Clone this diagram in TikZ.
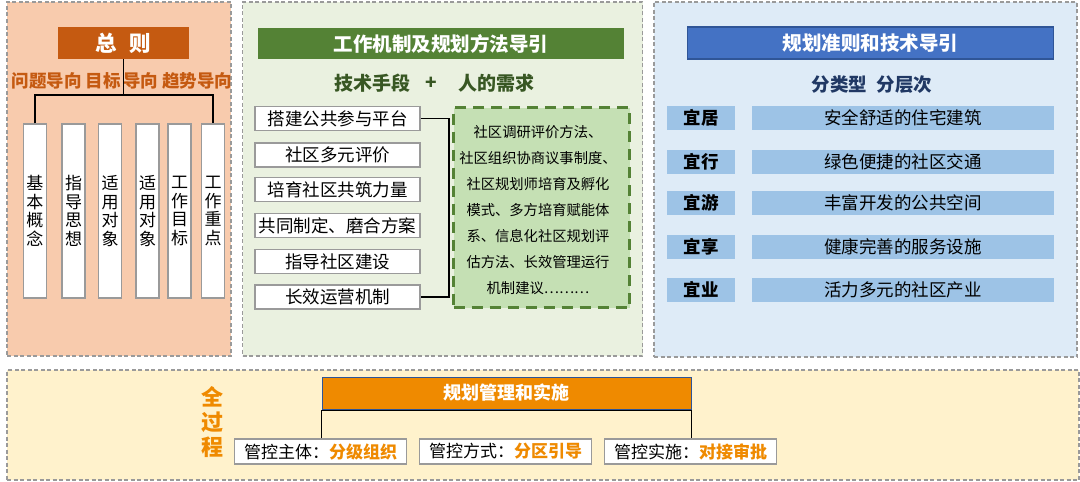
\documentclass[tikz,border=0pt]{standalone}
\usepackage{fontspec}
\setmainfont{Noto Sans CJK SC}
\definecolor{pA}{HTML}{F8CBAD}
\definecolor{tA}{HTML}{C55A11}
\definecolor{pB}{HTML}{EAF1E0}
\definecolor{tB}{HTML}{548235}
\definecolor{dB}{HTML}{C5E0B4}
\definecolor{sB}{HTML}{385723}
\definecolor{pC}{HTML}{DEEBF7}
\definecolor{tC}{HTML}{4472C4}
\definecolor{eC}{HTML}{2F5597}
\definecolor{rC}{HTML}{9DC3E6}
\definecolor{sC}{HTML}{203864}
\definecolor{pD}{HTML}{FFF2CC}
\definecolor{oD}{HTML}{EF8A00}
\definecolor{gB}{HTML}{9A9A9A}
\tikzset{
  panel/.style={draw=gB, line width=1.1pt, dash pattern=on 4pt off 2.5pt, inner sep=0pt},
  titlebar/.style={inner sep=0pt, text=white, font=\fontsize{19.5}{21}\selectfont\bfseries},
  vbox/.style={draw=gB, line width=1.2pt, fill=white, minimum width=23pt, minimum height=174pt, inner sep=0pt, align=center, font=\fontsize{17}{18.5}\selectfont},
  lbox/.style={draw=gB, line width=1.2pt, fill=white, minimum width=165pt, minimum height=24pt, inner sep=0pt, font=\fontsize{17.5}{19}\selectfont},
  tagbox/.style={fill=rC, minimum width=68pt, minimum height=24pt, inner sep=0pt, font=\fontsize{17.5}{19}\selectfont\bfseries},
  rowbox/.style={fill=rC, minimum width=302pt, minimum height=24pt, inner sep=0pt, font=\fontsize{17.5}{19}\selectfont},
  mbox/.style={draw=gB, line width=1.2pt, fill=white, minimum width=172pt, minimum height=25pt, inner sep=0pt, font=\fontsize{17}{19}\selectfont},
  conn/.style={draw=black, line width=1.1pt},
}
\begin{document}
\begin{tikzpicture}[x=1pt,y=-1pt]
\useasboundingbox (0,0) rectangle (1080,482);
\fill[white] (0,0) rectangle (1080,482);
% panels
\node[panel, fill=pA, minimum width=224pt, minimum height=354pt] (p1) at (119,179) {};
\node[panel, fill=pB, minimum width=400pt, minimum height=354pt] (p2) at (442.5,179) {};
\node[panel, fill=pC, minimum width=423pt, minimum height=355pt] (p3) at (865.5,179.5) {};
\node[panel, fill=pD, minimum width=1072pt, minimum height=110pt] (p4) at (543,425) {};

% ---- panel 1
\node[titlebar, fill=tA, minimum width=131pt, minimum height=32pt, font=\fontsize{21.5}{23}\selectfont\bfseries] (zz) at (123.5,43) {总\hspace{0.6em}则};
\node[text=tA, inner sep=0pt, font=\fontsize{17.5}{19}\selectfont\bfseries] (sub) at (122,81) {问题导向\hspace{0.25em}目标\hspace{0.12em}导向\hspace{0.25em}趋势导向};
\node[vbox] (b1) at (35,211) {基\\本\\概\\念};
\node[vbox] (b2) at (73.5,211) {指\\导\\思\\想};
\node[vbox] (b3) at (110,211) {适\\用\\对\\象};
\node[vbox] (b4) at (147.5,211) {适\\用\\对\\象};
\node[vbox] (b5) at (179.5,211) {工\\作\\目\\标};
\node[vbox] (b6) at (213,211) {工\\作\\重\\点};
\coordinate (j) at (123.5,95);
\draw[conn] (zz.south) -- (j);
\draw[conn] (b1.north) |- (j) -| (b6.north);

% ---- panel 2
\node[titlebar, fill=tB, minimum width=366pt, minimum height=31pt] (t2) at (441,43.5) {工作机制及规划方法导引};
\node[text=sB, inner sep=0pt, font=\fontsize{19}{21}\selectfont\bfseries] (tech) at (372,83) {技术手段};
\node[text=sB, inner sep=0pt, font=\fontsize{19}{21}\selectfont\bfseries] (plus) at (431,83) {+};
\node[text=sB, inner sep=0pt, font=\fontsize{19}{21}\selectfont\bfseries] (need) at (496,83) {人的需求};
\node[lbox] (l1) at (337.5,118.5) {搭建公共参与平台};
\node[lbox] (l2) at (337.5,155) {社区多元评价};
\node[lbox] (l3) at (337.5,189.5) {培育社区共筑力量};
\node[lbox] (l4) at (337.5,225.5) {共同制定、磨合方案};
\node[lbox] (l5) at (337.5,261.5) {指导社区建设};
\node[lbox] (l6) at (337.5,297) {长效运营机制};
\node[draw=tB, fill=dB, line width=3.5pt, dash pattern=on 11pt off 7pt, minimum width=176pt, minimum height=200pt, inner sep=0pt] (dbox) at (541.5,207.5) {};
\node[inner sep=0pt, align=center, font=\fontsize{14.3}{26}\selectfont] (dtext) at (538,210) {社区调研评价方法、\\社区组织协商议事制度、\\社区规划师培育及孵化\\模式、多方培育赋能体\\系、信息化社区规划评\\估方法、长效管理运行\\机制建议………};
\coordinate (bk) at (449,200);
\draw[conn] (l1.east) -| (bk) |- (l6.east);

% ---- panel 3
\node[titlebar, fill=tC, draw=eC, line width=1.2pt, minimum width=366pt, minimum height=32pt] (t3) at (870.5,43) {规划准则和技术导引};
\node[text=sC, inner sep=0pt, font=\fontsize{18.5}{20}\selectfont\bfseries] (cls) at (872,85) {分类型\hspace{0.5em}分层次};
\node[tagbox] (g1) at (701,118) {宜居};
\node[tagbox] (g2) at (701,162) {宜行};
\node[tagbox] (g3) at (701,203) {宜游};
\node[tagbox] (g4) at (701,247) {宜享};
\node[tagbox] (g5) at (701,290) {宜业};
\node[rowbox] (r1) at (903,118) {安全舒适的住宅建筑};
\node[rowbox] (r2) at (903,162) {绿色便捷的社区交通};
\node[rowbox] (r3) at (903,203) {丰富开发的公共空间};
\node[rowbox] (r4) at (903,247) {健康完善的服务设施};
\node[rowbox] (r5) at (903,290) {活力多元的社区产业};

% ---- panel 4
\node[text=oD, inner sep=0pt, align=center, font=\fontsize{22}{25}\selectfont\bfseries] (qgc) at (212,422) {全\\过\\程};
\node[titlebar, fill=oD, draw=eC, line width=1pt, minimum width=369pt, minimum height=32pt, font=\fontsize{18}{20}\selectfont\bfseries] (bar) at (506.5,393) {规划管理和实施};
\node[mbox] (m1) at (320.5,451.5) {管控主体：\textcolor{oD}{\bfseries 分级组织}};
\node[mbox] (m2) at (505.5,451.5) {管控方式：\textcolor{oD}{\bfseries 分区引导}};
\node[mbox] (m3) at (690.5,451.5) {管控实施：\textcolor{oD}{\bfseries 对接审批}};
\draw[conn] (bar.south west |- m1.north) -- ([yshift=-1pt]bar.south west) -- ([yshift=-1pt]bar.south east) -- (bar.south east |- m3.north);
\end{tikzpicture}
\end{document}
